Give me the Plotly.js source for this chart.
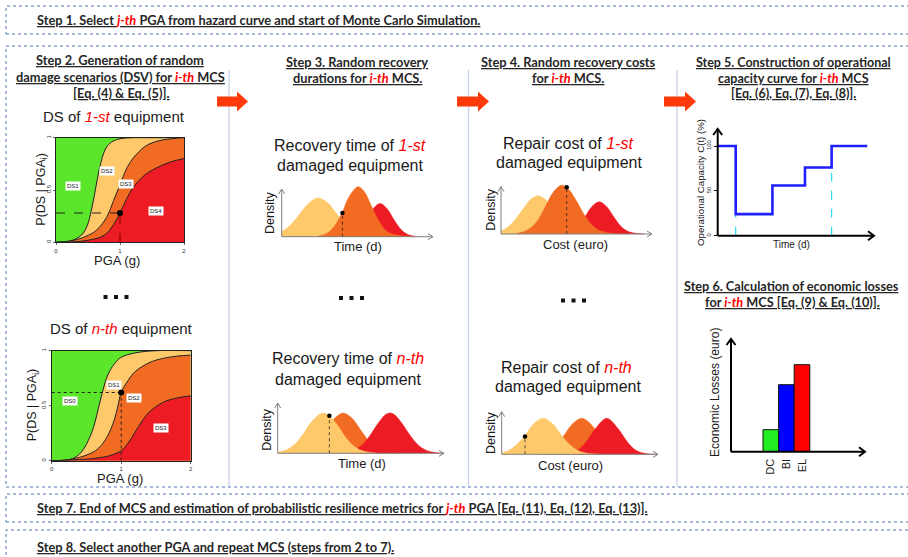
<!DOCTYPE html>
<html><head><meta charset="utf-8">
<script src="https://cdn.plot.ly/plotly-3.0.1.min.js"></script>
<style>html,body{margin:0;padding:0;background:#fff}#chart{width:908px;height:557px}</style>
</head><body><div id="chart"></div>
<script>
// ---------------- DATA ----------------
// Step 2: fragility curves, 1st equipment (PGA in g, probability)
const fr1_c1_x = [0,0.2,0.3,0.4,0.45,0.5,0.55,0.6,0.65,0.7,0.75,0.8,0.9,1.0,1.2,1.5,2];
const fr1_c1_y = [0,0.01,0.03,0.07,0.11,0.18,0.3,0.45,0.62,0.76,0.86,0.92,0.97,0.99,1,1,1];
const fr1_c2_x = [0,0.2,0.4,0.6,0.7,0.8,0.9,1.0,1.1,1.2,1.4,1.6,1.8,2];
const fr1_c2_y = [0,0.01,0.04,0.1,0.16,0.25,0.4,0.55,0.7,0.8,0.92,0.97,0.99,1.0];
const fr1_c3_x = [0,0.3,0.5,0.7,0.8,0.9,1.0,1.1,1.2,1.4,1.6,1.8,2];
const fr1_c3_y = [0,0.005,0.02,0.05,0.09,0.17,0.28,0.41,0.52,0.65,0.72,0.77,0.8];
const fr1_point = [1, 0.28];
const fr1_labels = ['DS1','DS2','DS3','DS4'];
const fr1_lab_x = [0.27,0.79,1.09,1.56];
const fr1_lab_y = [0.54,0.68,0.56,0.30];
// Step 2: fragility curves, n-th equipment
const fr2_c1_x = [0,0.2,0.3,0.4,0.5,0.6,0.65,0.7,0.75,0.8,0.9,1.0,1.2,1.5,2];
const fr2_c1_y = [0,0.005,0.02,0.06,0.15,0.3,0.42,0.55,0.67,0.77,0.88,0.94,0.98,1,1];
const fr2_c2_x = [0,0.2,0.4,0.6,0.7,0.8,0.9,0.95,1.0,1.1,1.2,1.4,1.6,1.8,2];
const fr2_c2_y = [0,0.005,0.03,0.08,0.13,0.22,0.37,0.49,0.62,0.73,0.81,0.89,0.93,0.95,0.96];
const fr2_c3_x = [0,0.4,0.6,0.8,0.9,1.0,1.1,1.2,1.3,1.4,1.6,1.8,2];
const fr2_c3_y = [0,0.01,0.02,0.04,0.06,0.09,0.16,0.26,0.36,0.44,0.53,0.57,0.59];
const fr2_point = [1, 0.62];
const fr2_labels = ['DS0','DS1','DS2','DS3'];
const fr2_lab_x = [0.26,0.89,1.18,1.57];
const fr2_lab_y = [0.54,0.69,0.57,0.30];
const frag_ticks_x = [0,1,2];
const frag_ticks_y = [0,0.5,1];

// Step 3: recovery time densities, 1st equipment
const dA_lo_x = [0,0.5,1,1.5,2,2.44,3,3.5,4,4.5,5,5.5,6];
const dA_lo_y = [0.09,0.195,0.35,0.53,0.67,0.72,0.645,0.49,0.31,0.165,0.074,0.028,0.01];
const dA_or_x = [2.4,3,3.5,4,4.5,5.1,5.5,6,6.5,7,7.5,8,8.9];
const dA_or_y = [0.01,0.06,0.19,0.43,0.75,0.93,0.84,0.56,0.28,0.10,0.04,0.015,0];
const dA_re_x = [4.5,5,5.5,6,6.55,7,7.5,8,8.5,9];
const dA_re_y = [0.02,0.09,0.26,0.49,0.62,0.53,0.31,0.12,0.03,0.005];
const dA_pt = [4.05, 0.44];
// Step 3: recovery time densities, n-th equipment
const dB_lo_x = [0,0.5,1,1.5,2,2.75,3.5,4,4.5,5,5.5,6];
const dB_lo_y = [0.02,0.06,0.16,0.34,0.57,0.75,0.57,0.34,0.16,0.06,0.02,0.005];
const dB_or_x = [1.5,2,2.5,3,3.5,3.96,4.5,5,5.5,6,6.5,7,7.5];
const dB_or_y = [0.04,0.11,0.26,0.47,0.67,0.75,0.65,0.44,0.23,0.09,0.03,0.01,0];
const dB_re_x = [4.5,5,5.5,6,6.5,6.78,7,7.5,8,8.5,9,9.5,10];
const dB_re_y = [0.04,0.13,0.30,0.53,0.72,0.75,0.73,0.56,0.33,0.15,0.05,0.015,0];
const dB_pt = [3.12, 0.70];
// Step 4: repair cost densities, 1st equipment
const dC_lo_x = [0,0.5,1,1.5,2,2.48,3,3.5,4,4.5,5,5.5,6];
const dC_lo_y = [0.056,0.14,0.29,0.48,0.65,0.71,0.63,0.46,0.27,0.13,0.05,0.02,0.005];
const dC_or_x = [1,1.5,2,2.5,3,3.5,4.03,4.5,5,5.5,6,6.5,7,7.5,8];
const dC_or_y = [0.01,0.04,0.12,0.28,0.54,0.79,0.91,0.83,0.62,0.37,0.18,0.07,0.03,0.01,0];
const dC_re_x = [4.5,5,5.5,6,6.52,7,7.5,8,8.5,9,9.5];
const dC_re_y = [0.04,0.12,0.29,0.50,0.60,0.51,0.31,0.13,0.04,0.01,0];
const dC_pt = [4.36, 0.87];
// Step 4: repair cost densities, n-th equipment
const dD_lo_x = [0,0.5,1,1.5,2,2.67,3.3,3.8,4.3,4.8,5.3,5.8,6.3];
const dD_lo_y = [0.026,0.08,0.19,0.35,0.55,0.67,0.56,0.37,0.20,0.085,0.03,0.01,0];
const dD_or_x = [2.5,3,3.5,4,4.5,5.14,5.7,6.2,6.7,7.2,7.7,8.2];
const dD_or_y = [0.02,0.07,0.18,0.35,0.55,0.67,0.57,0.38,0.20,0.08,0.03,0.01];
const dD_re_x = [4.5,5,5.5,6,6.75,7.5,8,8.5,9,9.5,10];
const dD_re_y = [0.03,0.10,0.26,0.47,0.67,0.47,0.26,0.10,0.03,0.006,0];
const dD_pt = [1.5, 0.33];

// Step 5: operational capacity curve
const cap_t = [0, 1.16, 3.53, 5.63, 7.35, 9.65];
const cap_c = [100, 24, 56, 76, 100, 100];
const cap_ticks = [0, 50, 100];
// Step 6: economic losses
const loss_cat = ['DC','BI','EL'];
const loss_val = [22, 67, 87];

// ---------------- HELPERS ----------------
const W=908,H=557;
const PX=x=>x/W, PY=y=>1-y/H;
const C_GREEN='#5BE52B', C_LO='#FDC96B', C_OR='#F26B23', C_RE='#ED1C24';
const RED='#ff0000';
const FN='Liberation Sans', FNN='Lato';

const P = {
  f1:{ox:56, sx:64, oy:242.3, sy:104.6, xr:[0,2], yr:[0,1]},
  f2:{ox:51.7, sx:69.5, oy:460.7, sy:110, xr:[0,2], yr:[0,1]},
  dA:{ox:281.7, sx:15, oy:236.7, sy:53.7, xr:[-0.3,10.6], yr:[-0.05,1.05]},
  dB:{ox:277.7, sx:16.56, oy:453.3, sy:53.7, xr:[-0.3,10.6], yr:[-0.05,1.05]},
  dC:{ox:501, sx:15.07, oy:234, sy:53.7, xr:[-0.3,10.6], yr:[-0.05,1.05]},
  dD:{ox:501.7, sx:15.56, oy:454.3, sy:53.7, xr:[-0.3,10.6], yr:[-0.05,1.05]},
  s5:{ox:717.7, sx:15.5, oy:235.7, sy:0.897, xr:[0,10.3], yr:[0,120]},
  s6:{ox:770.8, sx:15.6, oy:451.7, sy:1, xr:[-2.55,5.93], yr:[0,115]}
};
function dX(p){return [PX(p.ox+p.xr[0]*p.sx), PX(p.ox+p.xr[1]*p.sx)];}
function dY(p){return [PY(p.oy-p.yr[0]*p.sy), PY(p.oy-p.yr[1]*p.sy)];}

const traces=[];
function fill(ax,x,y,col){
  traces.push({type:'scatter',mode:'lines',x:x,y:y,xaxis:'x'+ax,yaxis:'y'+ax,
    fill:'tozeroy',fillcolor:col,line:{color:col,width:0.5,shape:'spline',smoothing:1},hoverinfo:'skip'});
}
function line(ax,x,y,col,w,dash){
  traces.push({type:'scatter',mode:'lines',x:x,y:y,xaxis:'x'+ax,yaxis:'y'+ax,line:{color:col,width:w,dash:dash||'solid'},hoverinfo:'skip'});
}
function dot(ax,x,y,sz){
  traces.push({type:'scatter',mode:'markers',x:[x],y:[y],xaxis:'x'+ax,yaxis:'y'+ax,marker:{color:'#000',size:sz},hoverinfo:'skip'});
}

function frag(ax,c1x,c1y,c2x,c2y,c3x,c3y,pt,hcol,vcol,dash){
  traces.push({type:'scatter',mode:'lines',x:[0,2],y:[1,1],xaxis:'x'+ax,yaxis:'y'+ax,fill:'tozeroy',fillcolor:C_GREEN,line:{width:0,color:C_GREEN},hoverinfo:'skip'});
  const ln={color:'#222',width:1,shape:'spline',smoothing:1};
  traces.push({type:'scatter',mode:'lines',x:c1x,y:c1y,xaxis:'x'+ax,yaxis:'y'+ax,fill:'tozeroy',fillcolor:C_LO,line:ln,hoverinfo:'skip'});
  traces.push({type:'scatter',mode:'lines',x:c2x,y:c2y,xaxis:'x'+ax,yaxis:'y'+ax,fill:'tozeroy',fillcolor:C_OR,line:ln,hoverinfo:'skip'});
  traces.push({type:'scatter',mode:'lines',x:c3x,y:c3y,xaxis:'x'+ax,yaxis:'y'+ax,fill:'tozeroy',fillcolor:C_RE,line:ln,hoverinfo:'skip'});
  line(ax,[0,pt[0]],[pt[1],pt[1]],hcol,1,dash);
  line(ax,[pt[0],pt[0]],[0,pt[1]],vcol,1,dash);
  dot(ax,pt[0],pt[1],6);
}
frag('',fr1_c1_x,fr1_c1_y,fr1_c2_x,fr1_c2_y,fr1_c3_x,fr1_c3_y,fr1_point,'#222','#7a0000','dash');
frag('2',fr2_c1_x,fr2_c1_y,fr2_c2_x,fr2_c2_y,fr2_c3_x,fr2_c3_y,fr2_point,'#222','#222','dot');

// Densities
fill('3',dA_lo_x,dA_lo_y,C_LO); fill('3',dA_re_x,dA_re_y,C_RE); fill('3',dA_or_x,dA_or_y,C_OR);
line('3',[dA_pt[0],dA_pt[0]],[0,dA_pt[1]],'#222',0.8,'dot'); dot('3',dA_pt[0],dA_pt[1],4.5);
fill('4',dB_or_x,dB_or_y,C_OR); fill('4',dB_re_x,dB_re_y,C_RE); fill('4',dB_lo_x,dB_lo_y,C_LO);
line('4',[dB_pt[0],dB_pt[0]],[0,dB_pt[1]],'#222',0.8,'dot'); dot('4',dB_pt[0],dB_pt[1],4.5);
fill('5',dC_lo_x,dC_lo_y,C_LO); fill('5',dC_re_x,dC_re_y,C_RE); fill('5',dC_or_x,dC_or_y,C_OR);
line('5',[dC_pt[0],dC_pt[0]],[0,dC_pt[1]],'#222',0.8,'dot'); dot('5',dC_pt[0],dC_pt[1],4.5);
fill('6',dD_or_x,dD_or_y,C_OR); fill('6',dD_re_x,dD_re_y,C_RE); fill('6',dD_lo_x,dD_lo_y,C_LO);
line('6',[dD_pt[0],dD_pt[0]],[0,dD_pt[1]],'#222',0.8,'dot'); dot('6',dD_pt[0],dD_pt[1],4.5);

// Step 5 capacity
traces.push({type:'scatter',mode:'lines',x:[cap_t[1],cap_t[1]],y:[0,cap_c[1]],xaxis:'x7',yaxis:'y7',line:{color:'#2FD9EE',width:1.2,dash:'dash'},hoverinfo:'skip'});
traces.push({type:'scatter',mode:'lines',x:[cap_t[4],cap_t[4]],y:[0,cap_c[3]],xaxis:'x7',yaxis:'y7',line:{color:'#2FD9EE',width:1.2,dash:'dash'},hoverinfo:'skip'});
traces.push({type:'scatter',mode:'lines',x:cap_t,y:cap_c,xaxis:'x7',yaxis:'y7',line:{color:'#1F1FFF',width:2.6,shape:'hv'},hoverinfo:'skip'});

// Step 6 losses
traces.push({type:'bar',x:loss_cat,y:loss_val,xaxis:'x8',yaxis:'y8',width:1,
  marker:{color:['#22EE22','#0000FF','#FF0000'],line:{color:'#111',width:1}},hoverinfo:'skip'});

// ---------------- AXES ----------------
const base={showgrid:false,zeroline:false,showticklabels:false,ticks:'',fixedrange:true};
const layout={width:W,height:H,margin:{l:0,r:0,t:0,b:0},showlegend:false,
  paper_bgcolor:'#fff',plot_bgcolor:'rgba(0,0,0,0)',bargap:0,font:{family:FN},
  shapes:[],annotations:[]};
function fragAxes(k,p){
  layout['xaxis'+k]=Object.assign({},base,{domain:dX(p),range:p.xr,anchor:'y'+k,showline:true,mirror:true,linecolor:'#222',linewidth:1,
    ticks:'outside',ticklen:2,tickwidth:0.8,tickcolor:'#444',showticklabels:true,tickvals:frag_ticks_x,
    tickfont:{size:6,color:'#333',family:FN}});
  layout['yaxis'+k]=Object.assign({},base,{domain:dY(p),range:p.yr,anchor:'x'+k,showline:true,mirror:true,linecolor:'#222',linewidth:1,
    ticks:'outside',ticklen:2,tickwidth:0.8,tickcolor:'#444',showticklabels:true,tickvals:frag_ticks_y,tickangle:-90,
    tickfont:{size:6,color:'#333',family:FN}});
}
fragAxes('',P.f1); fragAxes('2',P.f2);
[['3',P.dA],['4',P.dB],['5',P.dC],['6',P.dD]].forEach(([k,p])=>{
  layout['xaxis'+k]=Object.assign({},base,{domain:dX(p),range:p.xr,anchor:'y'+k});
  layout['yaxis'+k]=Object.assign({},base,{domain:dY(p),range:p.yr,anchor:'x'+k});
});
layout.xaxis7=Object.assign({},base,{domain:dX(P.s5),range:P.s5.xr,anchor:'y7'});
layout.yaxis7=Object.assign({},base,{domain:dY(P.s5),range:P.s5.yr,anchor:'x7',ticks:'outside',ticklen:3,tickwidth:1,tickcolor:'#111',
  showticklabels:true,tickvals:cap_ticks,tickangle:-90,tickfont:{size:6,color:'#333',family:FN}});
layout.xaxis8=Object.assign({},base,{domain:dX(P.s6),range:P.s6.xr,anchor:'y8',type:'category',showticklabels:true,
  tickangle:-90,tickfont:{size:11,color:'#222',family:FN},ticklabelstandoff:4});
layout.yaxis8=Object.assign({},base,{domain:dY(P.s6),range:P.s6.yr,anchor:'x8'});

// ---------------- SHAPES ----------------
const S=layout.shapes;
function rectPx(x0,y0,x1,y1,opt){S.push(Object.assign({type:'rect',xref:'paper',yref:'paper',x0:PX(x0),x1:PX(x1),y0:PY(y1),y1:PY(y0)},opt));}
function linePx(x0,y0,x1,y1,col,w,dash){S.push({type:'line',xref:'paper',yref:'paper',x0:PX(x0),y0:PY(y0),x1:PX(x1),y1:PY(y1),line:{color:col,width:w,dash:dash||'solid'}});}
function pathPx(pts,close,opt){
  let d=pts.map((p,i)=>(i?'L':'M')+PX(p[0]).toFixed(5)+','+PY(p[1]).toFixed(5)).join(' ')+(close?' Z':'');
  S.push(Object.assign({type:'path',xref:'paper',yref:'paper',path:d},opt));
}
const boxLine={color:'#5574B9',width:1,dash:'dot'};
rectPx(6,6,915,34,{line:boxLine});
rectPx(6,46,915,487,{line:boxLine});
rectPx(6,494,915,522,{line:boxLine});
rectPx(6,530,915,562,{line:boxLine});
[229,468.5,677].forEach(x=>linePx(x,70,x,486,'#C9D3E8',1.3));
function bigArrow(x0,xb,xt,yc){
  pathPx([[x0,yc-5],[xb,yc-5],[xb,yc-10],[xt,yc],[xb,yc+10],[xb,yc+5],[x0,yc+5]],true,{fillcolor:'#FF3A0A',line:{width:0}});
}
bigArrow(217,237,248,101.5); bigArrow(457,478,489,101.5); bigArrow(664,685,696,101.5);
function dots(cx,cy){[-10.5,0,10.5].forEach(d=>rectPx(cx+d-2,cy-2,cx+d+2,cy+2,{fillcolor:'#111',line:{width:0}}));}
dots(116,297); dots(351.5,298); dots(573.5,300.5);
function axisArrows(ox,oy,xt,yt,col,w,len,half){
  linePx(ox,oy,xt,oy,col,w); linePx(ox,oy,ox,yt,col,w);
  pathPx([[xt-len,oy-half],[xt,oy],[xt-len,oy+half]],false,{line:{color:col,width:w}});
  pathPx([[ox-half,yt+len],[ox,yt],[ox+half,yt+len]],false,{line:{color:col,width:w}});
}
axisArrows(281.7,236.7,433,189,'#7f7f7f',1,5,3);
axisArrows(277.7,453.3,444,403,'#7f7f7f',1,5,3);
axisArrows(501,234,652,186.7,'#7f7f7f',1,5,3);
axisArrows(501.7,454.3,658,411.7,'#7f7f7f',1,5,3);
axisArrows(717.7,235.7,874,129,'#000',2,6,4.5);
axisArrows(731,451.7,865,339,'#000',2,6,4.5);

// ---------------- TEXT ----------------
const A=layout.annotations;
function T(x,y,text,size,opt){opt=opt||{};
  A.push({xref:'paper',yref:'paper',x:PX(x),y:PY(y),text:text,showarrow:false,
    font:{family:opt.family||FN,size:size,color:opt.color||'#1a1a1a'},
    xanchor:opt.xa||'center',yanchor:'middle',textangle:opt.angle||0,borderpad:0});
}
const R=t=>'<span style="color:'+RED+'"><i>'+t+'</i></span>';
function step(x,y,t,size,xa){T(x,y,'<b><u>'+t+'</u></b>',size||12.8,{family:FNN,color:'#262626',xa:xa});}

step(36,20,'Step 1. Select '+R('j-th')+' PGA from hazard curve and start of Monte Carlo Simulation.',12.8,'left');
step(36,508,'Step 7. End of MCS and estimation of probabilistic resilience metrics for '+R('j-th')+' PGA [Eq. (11), Eq. (12), Eq. (13)].',12.8,'left');
step(36,547,'Step 8. Select another PGA and repeat MCS (steps from 2 to 7).',12.8,'left');
step(120,60,'Step 2. Generation of random',12.8);
step(120,77,'damage scenarios (DSV) for '+R('i-th')+' MCS',12.8);
step(121,93,'[Eq. (4) &amp; Eq. (5)].',12.8);
step(357,62,'Step 3. Random recovery',12.8);
step(357,78,'durations for '+R('i-th')+' MCS.',12.8);
step(568,62,'Step 4. Random recovery costs',12.8);
step(568,78,'for '+R('i-th')+' MCS.',12.8);
step(793.5,62,'Step 5. Construction of operational',12.5);
step(793.5,78,'capacity curve for '+R('i-th')+' MCS',12.5);
step(793.5,94,'[Eq. (6), Eq. (7), Eq. (8)].',12.5);
step(791,286,'Step 6. Calculation of economic losses',12.7);
step(792,301.7,'for '+R('i-th')+' MCS [Eq. (9) &amp; Eq. (10)].',12.7);

T(114,117,'DS of '+R('1-st')+' equipment',15);
T(121,328,'DS of '+R('n-th')+' equipment',15);
T(116.7,260,'PGA (g)',13);
T(120,478,'PGA (g)',13);
const ylab='P(DS | PGA<sub>i</sub>)';
T(41.7,189,ylab,12.5,{angle:-90});
T(33.3,405,ylab,12.5,{angle:-90});
function dsLabels(ax,labs,xs,ys){labs.forEach((l,i)=>A.push({xref:'x'+ax,yref:'y'+ax,x:xs[i],y:ys[i],text:l,showarrow:false,
  font:{family:FN,size:6,color:'#222'},bgcolor:'#fff',borderpad:1}));}
dsLabels('',fr1_labels,fr1_lab_x,fr1_lab_y);
dsLabels('2',fr2_labels,fr2_lab_x,fr2_lab_y);

T(350,146,'Recovery time of '+R('1-st'),16);
T(350,165,'damaged equipment',16);
T(270,213,'Density',12.5,{angle:-90});
T(358.3,247,'Time (d)',13);
T(348.3,358.3,'Recovery time of '+R('n-th'),16);
T(348.3,379.3,'damaged equipment',16);
T(266.7,430,'Density',12.5,{angle:-90});
T(361.7,463.3,'Time (d)',13);
T(568,143.3,'Repair cost of '+R('1-st'),16);
T(569,162.3,'damaged equipment',16);
T(490.7,210,'Density',12.5,{angle:-90});
T(575,245,'Cost (euro)',13);
T(566.7,367.3,'Repair cost of '+R('n-th'),16);
T(567.7,386.7,'damaged equipment',16);
T(491.7,433.3,'Density',12.5,{angle:-90});
T(570,465,'Cost (euro)',13);

T(700,183,'Operational Capacity C(t) (%)',9.7,{angle:-90});
T(791.7,245,'Time (d)',10);
T(715,393,'Economic Losses (euro)',12,{angle:-90});

Plotly.newPlot('chart',traces,layout,{staticPlot:true,displayModeBar:false});
</script></body></html>
